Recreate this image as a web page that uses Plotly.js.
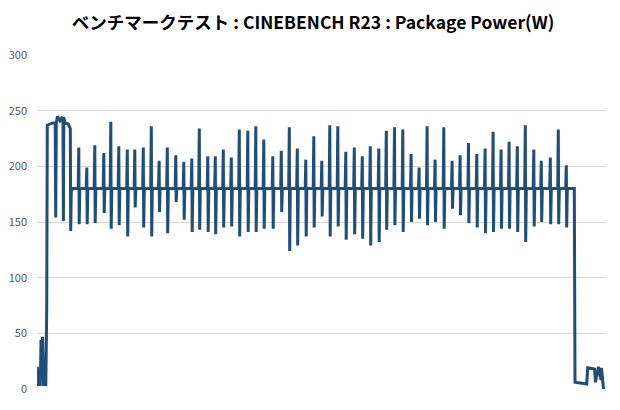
<!DOCTYPE html>
<html>
<head>
<meta charset="utf-8">
<script src="https://cdn.plot.ly/plotly-3.0.1.min.js"></script>
<style>
  html, body { margin: 0; padding: 0; background: #ffffff; }
  #chart { width: 620px; height: 410px; }
</style>
</head>
<body>
<div id="chart"></div>
<script>
// ---- data (time in seconds, power in W) ----
const chartTitle = 'ベンチマークテスト : CINEBENCH R23 : Package Power(W)';

// idle / ramp-up at the start
const startTime  = [0.3, 1.3, 3.3, 4.0, 4.8, 5.6, 6.6, 8.8, 9.7, 10.3, 15.7, 18.2, 18.7, 19.3, 20.5, 23.0, 24.7, 26.0, 26.4, 26.8, 28.0, 31.3, 33.3, 33.7, 34.3, 35.7];
const startPower = [20, 4, 4, 44, 8, 47, 4, 4, 70, 237, 239, 239, 154, 239, 245, 241, 243.5, 243, 151, 244, 239, 238, 234, 142, 178, 180];

// steady all-core load: baseline with periodic spikes
const baseline  = 180;
const spikeTime = [42, 50, 58, 67, 74, 82, 90.5, 98, 106.5, 114.5, 122.3, 130.5, 139, 147, 155, 162.5,
                   171, 178.5, 186.5, 194.5, 202.5, 211, 219, 227, 236, 244.5, 252.5, 260.5, 269, 277, 285,
                   293, 301, 309, 317.5, 325.5, 333.5, 342, 349.5, 357.7, 366, 374.3, 382.3, 390.3, 398.3,
                   407, 415.3, 423.3, 431.7, 440, 448.3, 456.3, 464.3, 472.3, 480.5, 488.5, 497, 504.5,
                   513.5, 521.5, 529.5];
const spikeHigh = [217, 199, 219, 212, 240, 218, 215, 215, 217, 236, 205, 217, 210, 204, 207, 234,
                   209, 209, 215, 208, 233, 232, 236, 224, 209, 214, 235, 216, 206, 227, 205,
                   237, 236, 213, 217, 209, 218, 216, 232, 235, 233, 211, 199, 236, 206,
                   235, 205, 210, 221, 211, 216, 231, 215, 222, 218, 237, 215, 205,
                   208, 233, 201];
const spikeLow  = [148, 148, 149, 158, 144, 147, 137, 163, 145, 137, 159, 140, 168, 152, 141, 143,
                   141, 139, 145, 146, 137, 141, 141, 144, 144, 159, 124, 129, 137, 145, 155,
                   137, 146, 134, 139, 135, 129, 132, 143, 147, 141, 150, 153, 147, 150,
                   144, 162, 156, 149, 145, 140, 141, 144, 144, 141, 132, 146, 150,
                   148, 148, 145];

// drop back to idle at the end
const endTime  = [537.3, 538.0, 549.7, 550.7, 557.5, 558.5, 561.5, 564.0, 564.5, 566.5];
const endPower = [180, 6, 4.5, 19, 18, 6, 20, 8, 19, 0];

// ---- build the single line trace ----
const xs = [...startTime];
const ys = [...startPower];
for (let i = 0; i < spikeTime.length; i++) {
  const t = spikeTime[i];
  xs.push(t - 0.8, t - 0.2, t + 0.2, t + 0.8);
  ys.push(baseline, spikeHigh[i], spikeLow[i], baseline);
}
xs.push(...endTime);
ys.push(...endPower);

const trace = {
  x: xs,
  y: ys,
  type: 'scatter',
  mode: 'lines',
  line: { color: '#1F4E79', width: 3 },
  hoverinfo: 'skip'
};

const layout = {
  width: 620,
  height: 410,
  paper_bgcolor: '#ffffff',
  plot_bgcolor: '#ffffff',
  margin: { l: 37, r: 14, t: 55, b: 21 },
  showlegend: false,
  title: {
    text: '<b>' + chartTitle + '</b>',
    font: { family: 'Noto Sans CJK JP, Noto Sans, sans-serif', size: 17.5, color: '#000000' },
    x: 0.505, xanchor: 'center',
    y: 1 - 23 / 410, yanchor: 'middle', yref: 'container'
  },
  xaxis: {
    range: [0, 569],
    showgrid: false, zeroline: false, showline: false,
    showticklabels: false, ticks: ''
  },
  yaxis: {
    range: [0, 300],
    dtick: 50,
    showgrid: true, gridcolor: '#d9d9d9', gridwidth: 1,
    zeroline: false, showline: false, ticks: '',
    ticklabelstandoff: 9,
    tickfont: { family: 'Noto Sans CJK JP, Noto Sans, sans-serif', size: 11, color: '#595959' }
  }
};

Plotly.newPlot('chart', [trace], layout, { staticPlot: true, displayModeBar: false });
</script>
</body>
</html>
